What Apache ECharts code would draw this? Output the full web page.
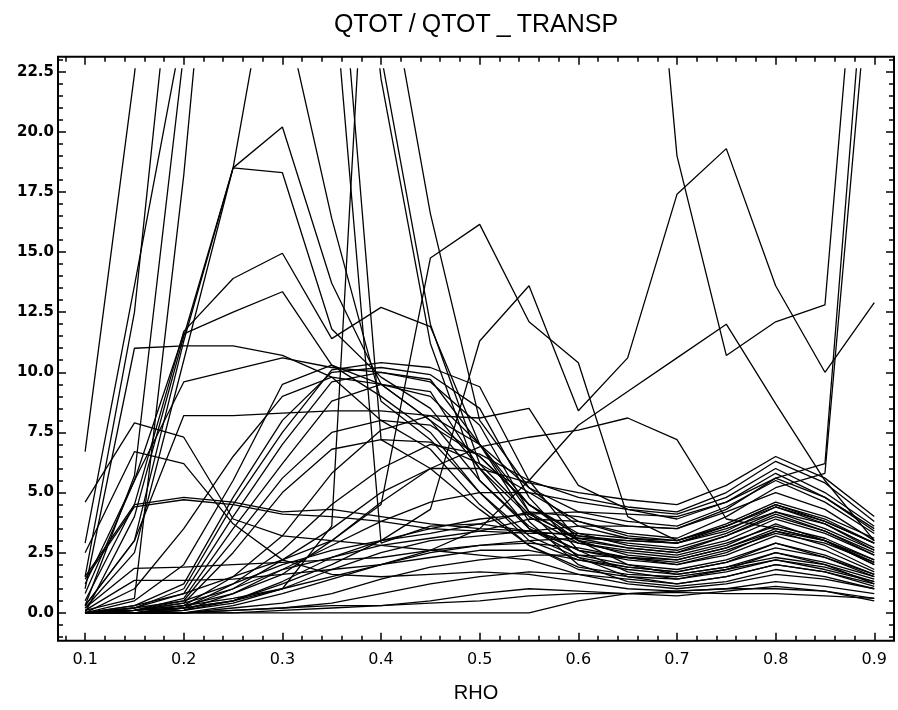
<!DOCTYPE html>
<html>
<head>
<meta charset="utf-8">
<script src="https://cdn.jsdelivr.net/npm/echarts@6/dist/echarts.min.js"></script>
<style>html,body{margin:0;padding:0;background:#fff;}#c{width:898px;height:710px;}</style>
</head>
<body>
<div id="c"></div>
<script>
// rho grid
const rho = [0.1,0.15,0.2,0.25,0.3,0.35,0.4,0.45,0.5,0.55,0.6,0.65,0.7,0.75,0.8,0.85,0.9];
const xTickLabels = [0.1,0.2,0.3,0.4,0.5,0.6,0.7,0.8,0.9];
const yTickLabels = [0,2.5,5,7.5,10,12.5,15,17.5,20,22.5];

// steep lines going off the top
const s01 = [6.7,22.4,40,40,25.5,16.4,8.8,7.2,5.0,3.2,2.3,1.9,1.7,2.1,2.9,2.3,1.5];
const s02 = [2.9,13.6,24.5,40,40,27.0,2.9,3.6,3.7,3.4,2.9,2.6,2.4,2.9,3.6,3.1,2.2];
const s03 = [1.5,12.5,32,40,40,32,7.2,6.0,4.3,2.8,1.8,1.5,1.4,1.8,2.5,2.0,1.2];
const s04 = [0.3,5.7,23.3,40,40,40,22.2,11.2,5.5,3.6,2.6,2.2,2.0,2.4,3.2,2.6,1.7];
const s05 = [0.1,0.6,18.2,40,40,40,23.2,12.0,6.2,4.1,3.1,2.7,2.5,3.0,3.9,3.3,2.4];
const s06 = [0.0,4.0,11.5,18.5,30,40,28,16.6,8.0,5.2,3.6,3.1,2.9,3.4,4.4,3.7,2.7];
const s07 = [0.0,0.1,0.3,0.6,1.0,3.6,40,40,40,40,40,41.5,19.0,10.7,12.1,12.8,37];
const s08 = [0.0,0.2,0.5,1.2,2.0,2.6,3.0,3.3,3.7,4.2,4.0,3.6,3.5,4.3,5.6,6.2,32];
const s09 = [0.0,0.1,0.4,1.0,1.8,2.3,2.8,3.1,3.4,3.9,3.8,3.3,3.1,4.0,5.2,5.8,29];

// large wandering lines
const b01 = [0.0,0.1,0.2,0.5,1.2,2.0,3.0,4.3,11.3,13.6,8.4,10.6,17.4,19.3,13.6,10.0,12.9];
const b02 = [0.0,0.3,0.8,1.5,2.2,3.0,4.5,14.75,16.15,12.1,10.4,4.0,3.0,3.6,4.5,3.8,2.9];
const b03 = [0.3,3.0,11.3,18.5,20.2,13.7,9.5,8.0,5.5,3.5,2.6,2.3,2.0,2.5,3.4,2.8,1.8];
const b04 = [0.2,2.5,10.5,18.5,18.3,11.8,9.8,8.5,6.0,4.0,2.9,2.5,2.3,2.8,3.7,3.0,2.0];
const b05 = [0.5,4.5,11.7,13.9,14.95,11.4,12.7,11.9,7.0,4.2,3.0,2.7,2.5,3.2,4.0,3.4,2.5];
const b06 = [0.8,5.5,11.6,12.5,13.35,10.3,9.5,8.0,6.5,4.5,3.2,2.9,2.7,3.3,4.2,3.5,2.6];
const b07 = [1.0,11.0,11.1,11.1,10.7,9.8,9.5,9.2,6.0,3.5,2.4,2.0,1.8,2.2,2.9,2.4,1.6];
const b08 = [1.2,5.5,9.6,10.1,10.6,10.2,10.0,9.7,7.0,4.5,3.3,2.8,2.6,3.2,4.1,3.4,2.4];
const b09 = [0.3,3.0,8.2,8.2,8.3,8.4,8.4,8.2,8.1,8.5,5.3,4.3,3.9,4.6,5.8,4.8,3.5];
const b10 = [4.6,7.9,7.3,3.9,3.2,3.0,2.8,2.6,2.4,2.2,1.6,1.2,1.0,1.2,1.6,1.4,1.0];
const b11 = [2.5,6.7,6.2,3.7,2.2,1.6,1.5,1.6,1.7,1.6,1.3,1.0,0.9,1.0,1.3,1.1,0.8];
const b12 = [1.5,4.5,4.8,4.6,4.2,4.3,4.0,3.7,3.5,3.4,3.2,3.0,2.9,3.6,4.4,3.8,2.9];
const b13 = [1.4,4.4,4.7,4.5,4.1,4.0,3.8,3.5,3.4,3.3,3.3,3.1,3.0,3.7,4.6,4.0,3.1];
const b14 = [0.2,1.85,1.9,2.0,2.1,2.2,2.3,2.6,2.8,2.9,2.7,2.3,2.1,2.6,3.3,2.9,2.1];
const b15 = [0.1,1.35,1.35,1.4,1.6,1.8,2.0,2.3,2.6,2.6,2.2,1.9,1.7,2.1,2.7,2.3,1.6];
const b16 = [0.0,0.0,0.0,0.0,0.0,0.0,0.0,0.0,0.0,0.0,0.5,0.8,0.85,0.8,0.8,0.7,0.6];
const b17 = [0.0,0.0,0.2,0.5,1.0,1.5,2.0,2.6,3.5,5.5,7.8,9.2,10.6,12.0,8.7,5.5,3.0];
const b18 = [0.0,0.1,0.3,0.8,1.6,3.0,4.6,6.0,6.9,7.3,7.6,8.1,7.2,3.9,3.5,3.0,2.2];

// central bundle
const c01 = [0.0,0.2,1.0,4.5,7.5,10.1,10.4,10.2,9.4,5.5,3.0,2.0,1.6,1.9,2.5,2.1,1.5];
const c02 = [0.0,0.3,1.2,4.8,8.0,10.0,10.2,9.9,8.5,4.8,2.6,1.7,1.4,1.7,2.2,1.8,1.3];
const c03 = [0.0,0.2,0.8,4.0,7.0,9.6,10.0,9.6,7.8,4.2,2.3,1.5,1.2,1.5,2.0,1.7,1.2];
const c04 = [0.0,0.1,0.6,3.5,6.2,8.8,9.5,9.0,7.0,3.8,2.0,1.3,1.1,1.3,1.8,1.5,1.0];
const c05 = [0.0,0.1,0.5,3.0,5.6,7.5,8.0,7.8,6.5,4.5,3.0,2.4,2.2,2.7,3.5,3.0,2.1];
const c06 = [0.0,0.1,0.4,2.5,5.0,6.8,7.2,7.1,6.2,5.0,3.8,3.2,3.0,3.6,4.5,3.9,2.9];
const c07 = [0.0,0.0,0.3,1.5,3.2,5.8,7.6,8.2,7.0,5.2,4.2,3.8,3.6,4.4,5.5,4.6,3.3];
const c08 = [0.0,0.0,0.2,1.2,2.6,4.5,6.0,7.0,6.6,5.5,4.8,4.4,4.2,5.0,6.3,5.4,3.8];
const c09 = [0.0,0.0,0.2,1.0,2.2,3.5,5.0,6.0,6.0,5.4,5.0,4.7,4.5,5.3,6.5,5.6,4.0];
const c10 = [0.0,0.0,0.1,0.8,1.8,2.8,3.8,4.6,5.0,5.0,4.6,4.3,4.1,4.8,6.0,5.0,3.6];
const c11 = [0.0,0.0,0.1,0.5,1.3,2.3,3.0,3.5,3.9,4.1,4.2,4.1,4.0,4.6,5.6,4.8,3.4];
const c12 = [0.0,0.0,0.1,0.4,1.0,1.8,2.5,3.0,3.2,3.4,3.6,3.6,3.5,4.2,5.0,4.3,3.0];
const c13 = [0.0,0.0,0.0,0.3,0.8,1.4,2.0,2.5,2.8,3.0,3.1,3.0,2.9,3.5,4.2,3.7,2.6];
const c14 = [0.0,0.0,0.0,0.2,0.4,0.8,1.4,1.9,2.2,2.4,2.4,2.3,2.2,2.7,3.4,3.0,2.0];
const c15 = [0.0,0.0,0.0,0.1,0.2,0.4,0.8,1.2,1.5,1.7,1.6,1.4,1.2,1.5,2.0,1.7,1.1];
const c16 = [0.0,0.0,0.0,0.0,0.1,0.2,0.3,0.5,0.8,1.0,0.9,0.8,0.7,0.9,1.1,0.9,0.6];
const c17 = [0.0,0.0,0.0,0.1,0.2,0.3,0.3,0.4,0.5,0.7,0.8,0.8,0.9,1.0,1.0,0.9,0.5];
const c18 = [0.0,0.5,2.0,5.5,9.5,10.3,9.0,7.5,5.0,3.0,2.2,1.8,1.6,1.9,2.3,2.0,1.4];
const c19 = [0.0,1.0,3.5,6.5,9.0,9.8,8.0,6.8,4.5,2.8,1.9,1.6,1.5,1.8,2.2,1.9,1.3];

const profiles = [s01,s02,s03,s04,s05,s06,s07,s08,s09,
  b01,b02,b03,b04,b05,b06,b07,b08,b09,b10,b11,b12,b13,b14,b15,b16,b17,b18,
  c01,c02,c03,c04,c05,c06,c07,c08,c09,c10,c11,c12,c13,c14,c15,c16,c17,c18,c19];

const X_MIN = 0.0725, X_MAX = 0.92;
const Y_MIN = -1.16, Y_MAX = 23.12, Y_CLIP = 22.62;

const xMinor = []; for (let k = 4; k <= 46; k++) { if (k % 5 !== 0) xMinor.push(+(k * 0.02).toFixed(2)); }
const yMinor = []; for (let k = -2; k <= 46; k++) { if (k % 5 !== 0) yMinor.push(+(k * 0.5).toFixed(1)); }

const tickStyle = { color: '#000', width: 1.5 };
const FRAME = { left: 58, right: 4, top: 56.7, bottom: 69.3 };

function xAx(pos, ticks, len, labels) {
  return {
    type: 'value', gridIndex: 0, position: pos, min: X_MIN, max: X_MAX,
    axisLine: { show: false, onZero: false }, splitLine: { show: false },
    axisTick: { show: true, inside: true, length: len, lineStyle: tickStyle, customValues: ticks },
    axisLabel: labels ? { show: true, customValues: xTickLabels, formatter: v => v.toFixed(1),
      color: '#000', fontFamily: 'DejaVu Sans', fontSize: 16, margin: 11 } : { show: false }
  };
}
function yAx(pos, ticks, len, labels) {
  return {
    type: 'value', gridIndex: 0, position: pos, min: Y_MIN, max: Y_MAX,
    axisLine: { show: false, onZero: false }, splitLine: { show: false },
    axisTick: { show: true, inside: true, length: len, lineStyle: tickStyle, customValues: ticks },
    axisLabel: labels ? { show: true, customValues: yTickLabels, formatter: v => v.toFixed(1),
      color: '#000', fontFamily: 'DejaVu Sans', fontWeight: 'bold', fontSize: 15, margin: 4 } : { show: false }
  };
}

const xAxes = [
  Object.assign(xAx('bottom', xTickLabels, 8, true), { name: 'RHO', nameLocation: 'middle', nameGap: 43,
    nameTextStyle: { color: '#000', fontFamily: 'Liberation Sans', fontSize: 20 } }),
  xAx('bottom', xMinor, 5, false),
  xAx('top', xTickLabels, 8, false),
  xAx('top', xMinor, 5, false),
  { type: 'value', gridIndex: 1, min: X_MIN, max: X_MAX, show: false }
];
const yAxes = [
  yAx('left', yTickLabels, 8, true),
  yAx('left', yMinor, 5, false),
  yAx('right', yTickLabels, 8, false),
  yAx('right', yMinor, 5, false),
  { type: 'value', gridIndex: 1, min: Y_MIN, max: Y_CLIP, show: false }
];

const series = profiles.map(p => ({
  type: 'line', xAxisIndex: 4, yAxisIndex: 4, data: rho.map((x, i) => [x, p[i]]),
  showSymbol: false, clip: true, silent: true,
  lineStyle: { color: '#000', width: 1.3 }
}));

const chart = echarts.init(document.getElementById('c'), null, { renderer: 'canvas' });
chart.setOption({
  animation: false,
  backgroundColor: '#fff',
  graphic: [{
    type: 'text', x: 476, y: 25,
    style: {
      text: '{t|QTOT}{g|/}{t|QTOT}{g|_}{t|TRANSP}',
      align: 'center', verticalAlign: 'middle',
      rich: {
        t: { fontFamily: 'Liberation Sans', fontSize: 25, fill: '#000', color: '#000' },
        g: { fontFamily: 'Liberation Sans', fontSize: 25, fill: '#000', color: '#000', padding: [0, 6, 0, 6] }
      }
    }
  }],
  grid: [
    Object.assign({ show: true, borderColor: '#000', borderWidth: 2, backgroundColor: 'transparent' }, FRAME),
    { left: 58, right: 4, top: 612.8 - Y_CLIP * 24.05, bottom: 69.3, show: false }
  ],
  xAxis: xAxes,
  yAxis: yAxes,
  series: series
});
</script>
</body>
</html>
